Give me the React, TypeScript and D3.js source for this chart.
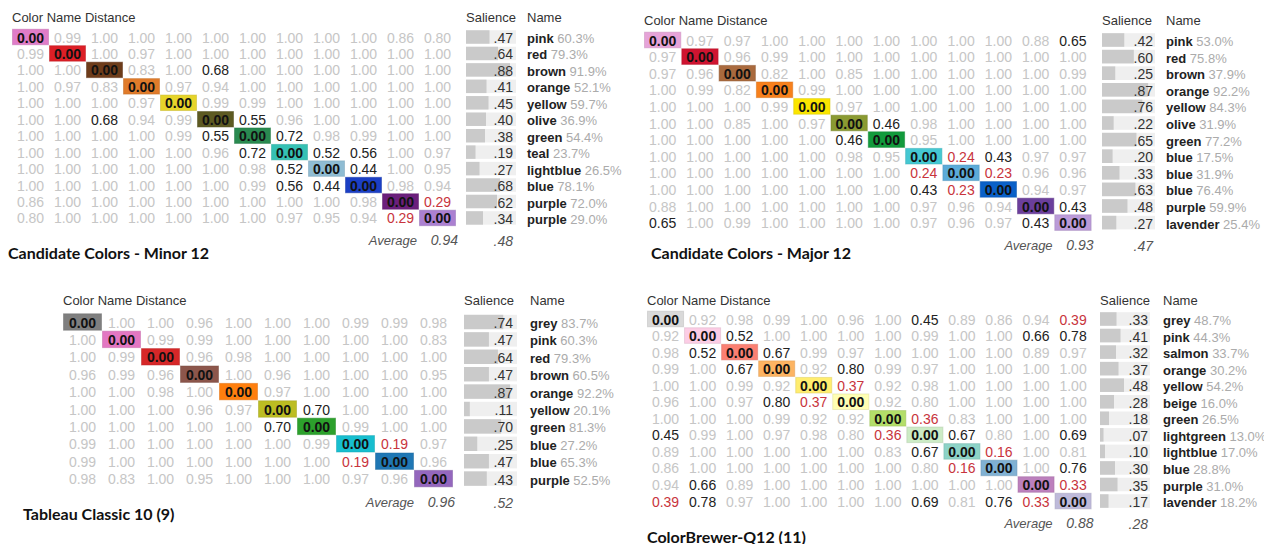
import * as d3 from "d3";

// ---- Candidate Colors - Minor 12
const minorNames = ["pink", "red", "brown", "orange", "yellow", "olive", "green", "teal", "lightblue", "blue", "purple", "purple"];
const minorPct = [60.3, 79.3, 91.9, 52.1, 59.7, 36.9, 54.4, 23.7, 26.5, 78.1, 72.0, 29.0];
const minorSal = [0.47, 0.64, 0.88, 0.41, 0.45, 0.40, 0.38, 0.19, 0.27, 0.68, 0.62, 0.34];
const minorColors = ["#e07cc8", "#dc1f26", "#6d3c1a", "#e07b2a", "#e6d42a", "#5d5a22", "#2a8a50", "#35c1b4", "#8fbcd3", "#1b3fc4", "#6b1f7c", "#ab80d1"];
const minorDist = [
  [0.00, 0.99, 1.00, 1.00, 1.00, 1.00, 1.00, 1.00, 1.00, 1.00, 0.86, 0.80],
  [0.99, 0.00, 1.00, 0.97, 1.00, 1.00, 1.00, 1.00, 1.00, 1.00, 1.00, 1.00],
  [1.00, 1.00, 0.00, 0.83, 1.00, 0.68, 1.00, 1.00, 1.00, 1.00, 1.00, 1.00],
  [1.00, 0.97, 0.83, 0.00, 0.97, 0.94, 1.00, 1.00, 1.00, 1.00, 1.00, 1.00],
  [1.00, 1.00, 1.00, 0.97, 0.00, 0.99, 0.99, 1.00, 1.00, 1.00, 1.00, 1.00],
  [1.00, 1.00, 0.68, 0.94, 0.99, 0.00, 0.55, 0.96, 1.00, 1.00, 1.00, 1.00],
  [1.00, 1.00, 1.00, 1.00, 0.99, 0.55, 0.00, 0.72, 0.98, 0.99, 1.00, 1.00],
  [1.00, 1.00, 1.00, 1.00, 1.00, 0.96, 0.72, 0.00, 0.52, 0.56, 1.00, 0.97],
  [1.00, 1.00, 1.00, 1.00, 1.00, 1.00, 0.98, 0.52, 0.00, 0.44, 1.00, 0.95],
  [1.00, 1.00, 1.00, 1.00, 1.00, 1.00, 0.99, 0.56, 0.44, 0.00, 0.98, 0.94],
  [0.86, 1.00, 1.00, 1.00, 1.00, 1.00, 1.00, 1.00, 1.00, 0.98, 0.00, 0.29],
  [0.80, 1.00, 1.00, 1.00, 1.00, 1.00, 1.00, 0.97, 0.95, 0.94, 0.29, 0.00],
];

// ---- Candidate Colors - Major 12
const majorNames = ["pink", "red", "brown", "orange", "yellow", "olive", "green", "blue", "blue", "blue", "purple", "lavender"];
const majorPct = [53.0, 75.8, 37.9, 92.2, 84.3, 31.9, 77.2, 17.5, 31.9, 76.4, 59.9, 25.4];
const majorSal = [0.42, 0.60, 0.25, 0.87, 0.76, 0.22, 0.65, 0.20, 0.33, 0.63, 0.48, 0.27];
const majorColors = ["#e6a3d8", "#cf1430", "#a96a3e", "#f7801c", "#fbe500", "#8a9a32", "#129a3c", "#45c8d2", "#5cabd8", "#0a60c8", "#6b3f9c", "#bb9bd8"];
const majorDist = [
  [0.00, 0.97, 0.97, 1.00, 1.00, 1.00, 1.00, 1.00, 1.00, 1.00, 0.88, 0.65],
  [0.97, 0.00, 0.96, 0.99, 1.00, 1.00, 1.00, 1.00, 1.00, 1.00, 1.00, 1.00],
  [0.97, 0.96, 0.00, 0.82, 1.00, 0.85, 1.00, 1.00, 1.00, 1.00, 1.00, 0.99],
  [1.00, 0.99, 0.82, 0.00, 0.99, 1.00, 1.00, 1.00, 1.00, 1.00, 1.00, 1.00],
  [1.00, 1.00, 1.00, 0.99, 0.00, 0.97, 1.00, 1.00, 1.00, 1.00, 1.00, 1.00],
  [1.00, 1.00, 0.85, 1.00, 0.97, 0.00, 0.46, 0.98, 1.00, 1.00, 1.00, 1.00],
  [1.00, 1.00, 1.00, 1.00, 1.00, 0.46, 0.00, 0.95, 1.00, 1.00, 1.00, 1.00],
  [1.00, 1.00, 1.00, 1.00, 1.00, 0.98, 0.95, 0.00, 0.24, 0.43, 0.97, 0.97],
  [1.00, 1.00, 1.00, 1.00, 1.00, 1.00, 1.00, 0.24, 0.00, 0.23, 0.96, 0.96],
  [1.00, 1.00, 1.00, 1.00, 1.00, 1.00, 1.00, 0.43, 0.23, 0.00, 0.94, 0.97],
  [0.88, 1.00, 1.00, 1.00, 1.00, 1.00, 1.00, 0.97, 0.96, 0.94, 0.00, 0.43],
  [0.65, 1.00, 0.99, 1.00, 1.00, 1.00, 1.00, 0.97, 0.96, 0.97, 0.43, 0.00],
];

// ---- Tableau Classic 10 (9)
const tabNames = ["grey", "pink", "red", "brown", "orange", "yellow", "green", "blue", "blue", "purple"];
const tabPct = [83.7, 60.3, 79.3, 60.5, 92.2, 20.1, 81.3, 27.2, 65.3, 52.5];
const tabSal = [0.74, 0.47, 0.64, 0.47, 0.87, 0.11, 0.70, 0.25, 0.47, 0.43];
const tabColors = ["#7f7f7f", "#e377c2", "#d62728", "#8c564b", "#ff7f0e", "#bcbd22", "#2ca02c", "#17becf", "#1f77b4", "#9467bd"];
const tabDist = [
  [0.00, 1.00, 1.00, 0.96, 1.00, 1.00, 1.00, 0.99, 0.99, 0.98],
  [1.00, 0.00, 0.99, 0.99, 1.00, 1.00, 1.00, 1.00, 1.00, 0.83],
  [1.00, 0.99, 0.00, 0.96, 0.98, 1.00, 1.00, 1.00, 1.00, 1.00],
  [0.96, 0.99, 0.96, 0.00, 1.00, 0.96, 1.00, 1.00, 1.00, 0.95],
  [1.00, 1.00, 0.98, 1.00, 0.00, 0.97, 1.00, 1.00, 1.00, 1.00],
  [1.00, 1.00, 1.00, 0.96, 0.97, 0.00, 0.70, 1.00, 1.00, 1.00],
  [1.00, 1.00, 1.00, 1.00, 1.00, 0.70, 0.00, 0.99, 1.00, 1.00],
  [0.99, 1.00, 1.00, 1.00, 1.00, 1.00, 0.99, 0.00, 0.19, 0.97],
  [0.99, 1.00, 1.00, 1.00, 1.00, 1.00, 1.00, 0.19, 0.00, 0.96],
  [0.98, 0.83, 1.00, 0.95, 1.00, 1.00, 1.00, 0.97, 0.96, 0.00],
];

// ---- ColorBrewer-Q12 (11)
const cbNames = ["grey", "pink", "salmon", "orange", "yellow", "beige", "green", "lightgreen", "lightblue", "blue", "purple", "lavender"];
const cbPct = [48.7, 44.3, 33.7, 30.2, 54.2, 16.0, 26.5, 13.0, 17.0, 28.8, 31.0, 18.2];
const cbSal = [0.33, 0.41, 0.32, 0.37, 0.48, 0.28, 0.18, 0.07, 0.10, 0.30, 0.35, 0.17];
const cbColors = ["#d9d9d9", "#fccde5", "#fb8072", "#fdb462", "#ffed6f", "#ffffb3", "#b3de69", "#ccebc5", "#8dd3c7", "#80b1d3", "#bc80bd", "#bebada"];
const cbDist = [
  [0.00, 0.92, 0.98, 0.99, 1.00, 0.96, 1.00, 0.45, 0.89, 0.86, 0.94, 0.39],
  [0.92, 0.00, 0.52, 1.00, 1.00, 1.00, 1.00, 0.99, 1.00, 1.00, 0.66, 0.78],
  [0.98, 0.52, 0.00, 0.67, 0.99, 0.97, 1.00, 1.00, 1.00, 1.00, 0.89, 0.97],
  [0.99, 1.00, 0.67, 0.00, 0.92, 0.799, 0.99, 0.97, 1.00, 1.00, 1.00, 1.00],
  [1.00, 1.00, 0.99, 0.92, 0.00, 0.37, 0.92, 0.98, 1.00, 1.00, 1.00, 1.00],
  [0.96, 1.00, 0.97, 0.799, 0.37, 0.00, 0.92, 0.80, 1.00, 1.00, 1.00, 1.00],
  [1.00, 1.00, 1.00, 0.99, 0.92, 0.92, 0.00, 0.36, 0.83, 1.00, 1.00, 1.00],
  [0.45, 0.99, 1.00, 0.97, 0.98, 0.80, 0.36, 0.00, 0.67, 0.80, 1.00, 0.69],
  [0.89, 1.00, 1.00, 1.00, 1.00, 1.00, 0.83, 0.67, 0.00, 0.16, 1.00, 0.81],
  [0.86, 1.00, 1.00, 1.00, 1.00, 1.00, 1.00, 0.80, 0.16, 0.00, 1.00, 0.76],
  [0.94, 0.66, 0.89, 1.00, 1.00, 1.00, 1.00, 1.00, 1.00, 1.00, 0.00, 0.33],
  [0.39, 0.78, 0.97, 1.00, 1.00, 1.00, 1.00, 0.69, 0.81, 0.76, 0.33, 0.00],
];

const averages = [0.94, 0.93, 0.96, 0.88];
const avgSalience = [0.48, 0.47, 0.52, 0.28];
const titles = ["Candidate Colors - Minor 12", "Candidate Colors - Major 12", "Tableau Classic 10 (9)", "ColorBrewer-Q12 (11)"];

const FONT = "'Liberation Sans', Arial, sans-serif";
const TITLE_FONT = "Lato, 'Open Sans', sans-serif";

const fmt2 = d3.format(".2f");
const fmtSal = (v: number) => fmt2(v).replace(/^0/, "");

function cellColor(v: number) {
  if (v < 0.4) return "#c8343c";
  if (v < 0.8) return "#222";
  return "#c6c6c6";
}

interface Layout {
  x0: number; colW: number; row0: number; rowH: number; headY: number;
  salX: number; salW: number; valX: number; nameX: number;
  avgY: number; titleX: number; titleY: number;
}

interface PanelData {
  names: string[]; pct: number[]; sal: number[]; colors: string[]; dist: number[][];
  avg: number; avgSal: number; title: string;
}

function Panel({ d, l }: { d: PanelData; l: Layout }) {
  const n = d.names.length;
  const idx = d3.range(n);
  const x = d3.scaleBand<number>().domain(idx).range([l.x0, l.x0 + n * l.colW]);
  const y = d3.scaleBand<number>().domain(idx).range([l.row0 - l.rowH / 2, l.row0 - l.rowH / 2 + n * l.rowH]);
  const s = d3.scaleLinear().domain([0, 1]).range([0, l.salW]);
  const matRight = l.x0 + n * l.colW;

  return (
    <g fontFamily={FONT}>
      <text x={l.x0} y={l.headY} fontSize={13} fill="#333" dominantBaseline="central">Color Name Distance</text>
      <text x={l.salX} y={l.headY} fontSize={13} fill="#333" dominantBaseline="central">Salience</text>
      <text x={l.nameX} y={l.headY} fontSize={13} fill="#333" dominantBaseline="central">Name</text>

      {idx.map((i) => (
        <rect key={"d" + i} x={x(i)! + 0.5} y={y(i)! + 0.5} width={x.bandwidth() - 1} height={y.bandwidth() - 1}
          fill={d.colors[i]} stroke={d3.color(d.colors[i])!.darker(0.4).toString()} strokeOpacity={0.5} />
      ))}
      {d.dist.map((row, i) =>
        row.map((v, j) => (
          <text key={i + "-" + j} x={x(j)! + x.bandwidth() / 2} y={y(i)! + y.bandwidth() / 2 + 0.5}
            textAnchor="middle" dominantBaseline="central" fontSize={14}
            fontWeight={i === j ? "bold" : "normal"}
            fill={i === j ? "#111" : cellColor(v)}>
            {fmt2(v)}
          </text>
        ))
      )}

      {idx.map((i) => (
        <g key={"s" + i}>
          <rect x={l.salX} y={y(i)! + 1.5} width={l.salW} height={y.bandwidth() - 3} fill="#efefef" />
          <rect x={l.salX} y={y(i)! + 1.5} width={s(d.sal[i])} height={y.bandwidth() - 3} fill="#cacaca" />
          <text x={l.valX} y={y(i)! + y.bandwidth() / 2 + 1} textAnchor="end" dominantBaseline="central"
            fontSize={14} fill="#333">{fmtSal(d.sal[i])}</text>
          <text x={l.nameX} y={y(i)! + y.bandwidth() / 2 + 1} dominantBaseline="central" fontSize={13}>
            <tspan fontWeight="bold" fill="#222">{d.names[i]}</tspan>
            <tspan fill="#ababab">{" " + d.pct[i].toFixed(1) + "%"}</tspan>
          </text>
        </g>
      ))}

      <text x={matRight - 39} y={l.avgY} textAnchor="end" dominantBaseline="central" fontSize={13}
        fontStyle="italic" fill="#555">Average</text>
      <text x={matRight + 2} y={l.avgY} textAnchor="end" dominantBaseline="central" fontSize={14}
        fontStyle="italic" fill="#555">{fmt2(d.avg)}</text>
      <text x={l.valX} y={l.avgY + 1} textAnchor="end" dominantBaseline="central" fontSize={14}
        fontStyle="italic" fill="#555">{fmtSal(d.avgSal)}</text>

      <text x={l.titleX} y={l.titleY} dominantBaseline="central" fontSize={16} fontWeight="bold"
        fontFamily={TITLE_FONT} fill="#111">{d.title}</text>
    </g>
  );
}

const panels: PanelData[] = [
  { names: minorNames, pct: minorPct, sal: minorSal, colors: minorColors, dist: minorDist, avg: averages[0], avgSal: avgSalience[0], title: titles[0] },
  { names: majorNames, pct: majorPct, sal: majorSal, colors: majorColors, dist: majorDist, avg: averages[1], avgSal: avgSalience[1], title: titles[1] },
  { names: tabNames, pct: tabPct, sal: tabSal, colors: tabColors, dist: tabDist, avg: averages[2], avgSal: avgSalience[2], title: titles[2] },
  { names: cbNames, pct: cbPct, sal: cbSal, colors: cbColors, dist: cbDist, avg: averages[3], avgSal: avgSalience[3], title: titles[3] },
];

const layouts: Layout[] = [
  { x0: 12, colW: 37.0, row0: 37, rowH: 16.45, headY: 17, salX: 466, salW: 50, valX: 513, nameX: 527, avgY: 240, titleX: 8, titleY: 252 },
  { x0: 644, colW: 37.3, row0: 40, rowH: 16.6, headY: 20, salX: 1102, salW: 53, valX: 1153, nameX: 1166, avgY: 245, titleX: 651, titleY: 252 },
  { x0: 63, colW: 39.0, row0: 322, rowH: 17.4, headY: 300, salX: 464, salW: 53, valX: 513, nameX: 530, avgY: 502, titleX: 23, titleY: 513 },
  { x0: 647, colW: 37.05, row0: 319, rowH: 16.55, headY: 300, salX: 1100, salW: 50, valX: 1148, nameX: 1163, avgY: 523, titleX: 647, titleY: 536 },
];

export default function App() {
  return (
    <svg width={1264} height={544} style={{ position: "absolute", left: 0, top: 0, background: "#fff" }}>
      {panels.map((p, k) => <Panel key={k} d={p} l={layouts[k]} />)}
    </svg>
  );
}
